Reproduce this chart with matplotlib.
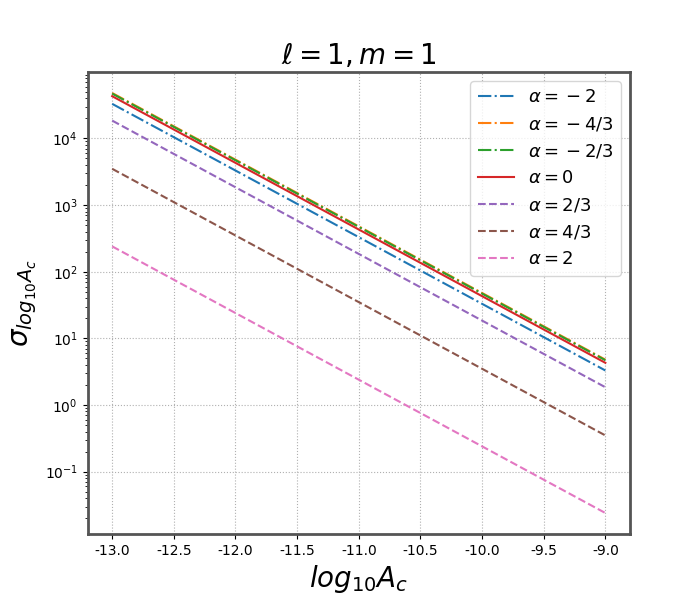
import matplotlib
matplotlib.use('Agg')
import matplotlib.pyplot as plt

plt.rcParams['axes.unicode_minus'] = False

# log10 A_c endpoints
log_ac = [-13.0, -9.0]

labels = [r'$\alpha={}-2$', r'$\alpha={}-4/3$', r'$\alpha={}-2/3$', r'$\alpha=0$',
          r'$\alpha=2/3$', r'$\alpha=4/3$', r'$\alpha=2$']
sigma = [
    [3.3e4, 3.3],
    [4.8e4, 4.8],
    [4.7e4, 4.7],
    [4.3e4, 4.3],
    [1.85e4, 1.85],
    [3.5e3, 0.35],
    [2.4e2, 0.024],
]
styles = ['-.', '-.', '-.', '-', '--', '--', '--']
colors = ['C0', 'C1', 'C2', 'C3', 'C4', 'C5', 'C6']

fig = plt.figure(figsize=[7, 6], dpi=100)
ax = fig.add_subplot(111)
for i in range(len(labels)):
    ax.plot(log_ac, sigma[i], styles[i], color=colors[i], label=labels[i], lw=1.5)

ax.set_yscale('log')
ax.set_xticks([-13.0, -12.5, -12.0, -11.5, -11.0, -10.5, -10.0, -9.5, -9.0])
ax.set_xticklabels(['-13.0', '-12.5', '-12.0', '-11.5', '-11.0', '-10.5', '-10.0', '-9.5', '-9.0'])
ax.grid(True, ls=':', color='#b0b0b0')
for s in ax.spines.values():
    s.set_color('#555555')
    s.set_linewidth(2)
ax.tick_params(colors='black')
ax.set_title(r'$\ell=1, m=1$', fontsize=20)
ax.set_xlabel(r'$log_{10}A_c$', fontsize=20)
ax.set_ylabel(r'$\sigma_{log_{10}A_c}$', fontsize=20)
ax.legend(loc='upper right', fontsize=13)

plt.savefig('out.png')
